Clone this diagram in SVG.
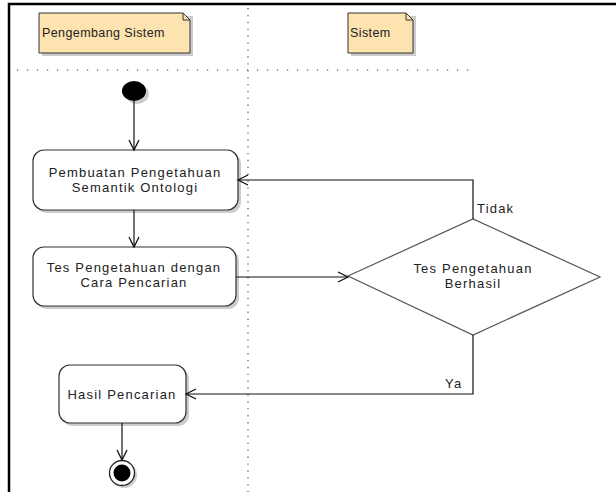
<svg xmlns="http://www.w3.org/2000/svg" width="616" height="492" viewBox="0 0 616 492">
<defs>
<style>
text{font-family:"Liberation Sans",Arial,sans-serif;font-size:13px;fill:#222;letter-spacing:1.2px}
text.nt{font-size:12.5px;letter-spacing:0.4px}
.act{fill:#fff;stroke:#333;stroke-width:1.2}
.shd{fill:#ccc}
.note{fill:#fde3b0;stroke:#333;stroke-width:1}
.cn{fill:none;stroke:#111;stroke-width:1.2}
.dot{stroke:#777;stroke-width:1.4;fill:none}
</style>
<marker id="ah" markerWidth="14" markerHeight="14" refX="11" refY="6" orient="auto" markerUnits="userSpaceOnUse">
<path d="M1,1 L11,6 L1,11" fill="none" stroke="#111" stroke-width="1.3"/>
</marker>
</defs>
<rect width="616" height="492" fill="#fff"/>
<path d="M9,492 V4 H616" fill="none" stroke="#000" stroke-width="2.5"/>
<g id="swimlanes">
<line class="dot" x1="248" y1="8" x2="248" y2="492" stroke-dasharray="1.4 5.5"/>
<line class="dot" x1="17" y1="70" x2="470" y2="70" stroke-dasharray="1.2 8.8"/>
</g>
<g id="lane-pengembang">
<path class="shd" d="M42,16 H193 V56 H42 Z"/>
<path class="note" d="M39,13 H183 L190,20 V53 H39 Z"/>
<path d="M183,13 V20 H190" fill="none" stroke="#333"/>
<text class="nt" x="42" y="37">Pengembang Sistem</text>
</g>
<g id="lane-sistem">
<path class="shd" d="M351,16 H416 V56 H351 Z"/>
<path class="note" d="M348,13 H406 L413,20 V53 H348 Z"/>
<path d="M406,13 V20 H413" fill="none" stroke="#333"/>
<text class="nt" x="350" y="37">Sistem</text>
</g>
<g id="start">
<ellipse cx="137" cy="94" rx="12" ry="10" fill="#ccc"/>
<ellipse cx="134" cy="91" rx="12" ry="10" fill="#000"/>
</g>
<g id="act1">
<rect class="shd" x="36" y="153" width="205" height="60" rx="11"/>
<rect class="act" x="33" y="150" width="205" height="60" rx="11"/>
<text x="135" y="177" text-anchor="middle">Pembuatan Pengetahuan</text>
<text x="135" y="192" text-anchor="middle">Semantik Ontologi</text>
</g>
<g id="act2">
<rect class="shd" x="36" y="250" width="203" height="59" rx="11"/>
<rect class="act" x="33" y="247" width="203" height="59" rx="11"/>
<text x="134" y="272" text-anchor="middle">Tes Pengetahuan dengan</text>
<text x="134" y="287" text-anchor="middle">Cara Pencarian</text>
</g>
<g id="decision">
<path d="M348,276 L473,219 L600,277 L473,335 Z" fill="#fff" stroke="#555" stroke-width="1.2"/>
<text x="473" y="273" text-anchor="middle">Tes Pengetahuan</text>
<text x="473" y="288" text-anchor="middle">Berhasil</text>
</g>
<g id="act3">
<rect class="shd" x="62" y="368" width="127" height="58" rx="11"/>
<rect class="act" x="59" y="365" width="127" height="58" rx="11"/>
<text x="122" y="399" text-anchor="middle">Hasil Pencarian</text>
</g>
<g id="end">
<circle cx="124" cy="475" r="13" fill="#ccc"/>
<circle cx="122" cy="473" r="12.5" fill="#fff" stroke="#222" stroke-width="1.3"/>
<circle cx="122" cy="473" r="8.5" fill="#000"/>
</g>
<g id="connectors">
<line class="cn" x1="134" y1="101" x2="134" y2="150" marker-end="url(#ah)"/>
<line class="cn" x1="134" y1="210" x2="134" y2="247" marker-end="url(#ah)"/>
<line class="cn" x1="236" y1="277" x2="348" y2="277" marker-end="url(#ah)"/>
<polyline class="cn" points="473,219 473,180 238,180" marker-end="url(#ah)"/>
<polyline class="cn" points="473,335 473,394 186,394" marker-end="url(#ah)"/>
<line class="cn" x1="122" y1="423" x2="122" y2="460" marker-end="url(#ah)"/>
<text x="477" y="213">Tidak</text>
<text x="445" y="388">Ya</text>
</g>
</svg>
